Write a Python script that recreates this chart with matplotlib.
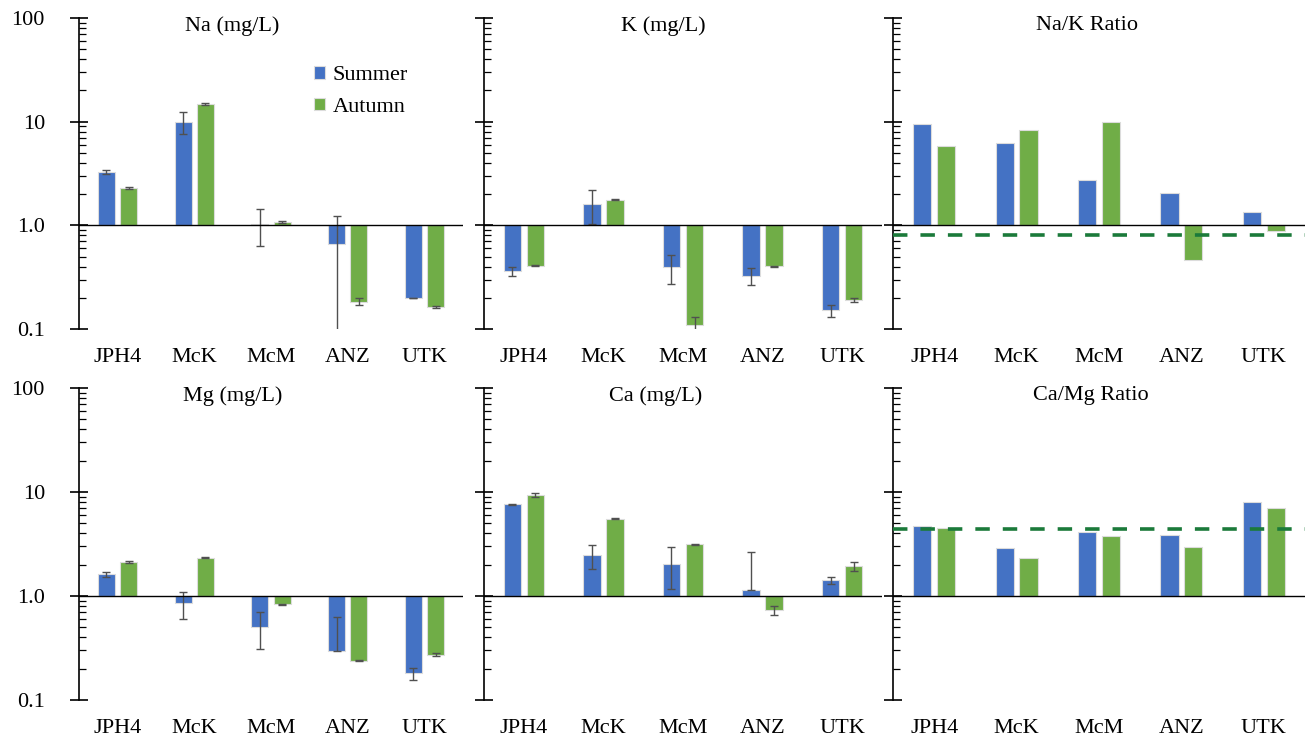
import matplotlib.pyplot as plt
import matplotlib.ticker as mticker
import numpy as np

plt.rcParams["font.family"] = ["Liberation Serif", "DejaVu Serif"]
plt.rcParams["font.size"] = 16

SITES = ["JPH4", "McK", "McM", "ANZ", "UTK"]

na_summer = [3.3, 10.0, 1.03, 0.66, 0.20]
na_summer_err = [0.15, 2.4, 0.4, 0.58, 0.0]
na_autumn = [2.29, 14.8, 1.07, 0.184, 0.162]
na_autumn_err = [0.03, 0.25, 0.02, 0.013, 0.003]

k_summer = [0.36, 1.62, 0.394, 0.324, 0.151]
k_summer_err = [0.033, 0.58, 0.12, 0.06, 0.02]
k_autumn = [0.408, 1.77, 0.110, 0.402, 0.19]
k_autumn_err = [0.005, 0.02, 0.02, 0.003, 0.007]

nak_summer = [9.4, 6.22, 2.76, 2.07, 1.355]
nak_autumn = [5.78, 8.31, 9.93, 0.466, 0.88]
nak_ref = 0.8

mg_summer = [1.61, 0.85, 0.507, 0.298, 0.18]
mg_summer_err = [0.09, 0.25, 0.2, 0.326, 0.023]
mg_autumn = [2.11, 2.34, 0.83, 0.239, 0.273]
mg_autumn_err = [0.04, 0.02, 0.01, 0.003, 0.01]

ca_summer = [7.6, 2.46, 2.05, 1.15, 1.41]
ca_summer_err = [0.12, 0.64, 0.88, 1.5, 0.1]
ca_autumn = [9.36, 5.54, 3.14, 0.728, 1.94]
ca_autumn_err = [0.4, 0.06, 0.05, 0.07, 0.2]

camg_summer = [4.75, 2.87, 4.16, 3.86, 8.01]
camg_autumn = [4.48, 2.34, 3.75, 2.96, 7.06]
camg_ref = 4.45

BLUE = "#4472C4"
GREEN = "#70AD47"
REF_GREEN = "#1B7A3A"
ERR_COLOR = "#505050"

W, H = 1308, 737
# axes boxes in pixels: (left, right) per column, (top, bottom) per row
COLS = [(79, 463), (484, 882), (893, 1305)]
ROWS = [(18, 329), (388, 700)]
TITLE_X = [[0.40, 0.45, 0.47], [0.40, 0.43, 0.48]]

panels = [
    [
        ("Na (mg/L)", na_summer, na_autumn, na_summer_err, na_autumn_err, None),
        ("K (mg/L)", k_summer, k_autumn, k_summer_err, k_autumn_err, None),
        ("Na/K Ratio", nak_summer, nak_autumn, None, None, nak_ref),
    ],
    [
        ("Mg (mg/L)", mg_summer, mg_autumn, mg_summer_err, mg_autumn_err, None),
        ("Ca (mg/L)", ca_summer, ca_autumn, ca_summer_err, ca_autumn_err, None),
        ("Ca/Mg Ratio", camg_summer, camg_autumn, None, None, camg_ref),
    ],
]


def _yerr(values, errs):
    values = np.asarray(values)
    errs = np.asarray(errs)
    # excel drops the minus part when it would go below zero on a log axis
    lower = np.where(values - errs > 0, errs, 0.0)
    return np.vstack([lower, errs])


def draw_bars(ax, x, values, errs, color, label):
    values = np.asarray(values)
    ax.bar(x, values - 1, bottom=1, width=0.22, color=color,
           edgecolor="#dcdcdc", linewidth=0.8, label=label, zorder=2)
    if errs is not None:
        ax.errorbar(x, values, yerr=_yerr(values, errs), fmt="none",
                    ecolor=ERR_COLOR, elinewidth=1.0, capsize=3,
                    capthick=1.0, zorder=3)


fig = plt.figure(figsize=(W / 100, H / 100), dpi=100)
x = np.arange(len(SITES))

for r, row in enumerate(panels):
    for c, (title, summer, autumn, s_err, a_err, ref) in enumerate(row):
        left, right = COLS[c]
        top, bottom = ROWS[r]
        ax = fig.add_axes([left / W, 1 - bottom / H, (right - left) / W,
                           (bottom - top) / H])
        ax.set_yscale("log")
        ax.set_ylim(0.1, 100)
        ax.set_xlim(-0.5, len(SITES) - 0.5)

        draw_bars(ax, x - 0.145, summer, s_err, BLUE, "Summer")
        draw_bars(ax, x + 0.145, autumn, a_err, GREEN, "Autumn")
        ax.axhline(1, color="black", linewidth=1.0, zorder=4)
        if ref is not None:
            ax.axhline(ref, color=REF_GREEN, linewidth=2.6,
                       linestyle=(0, (4, 3.6)), zorder=5)

        for side in ("top", "right", "bottom"):
            ax.spines[side].set_visible(False)
        ax.spines["left"].set_linewidth(1.2)

        ax.set_xticks(x)
        ax.set_xticklabels(SITES)
        ax.tick_params(axis="x", length=0, pad=14)

        ax.yaxis.set_major_locator(mticker.FixedLocator([0.1, 1, 10, 100]))
        ax.yaxis.set_minor_locator(
            mticker.LogLocator(base=10, subs=np.arange(2, 10)))
        ax.yaxis.set_minor_formatter(mticker.NullFormatter())
        ax.tick_params(axis="y", which="major", direction="inout",
                       length=13, width=1.2)
        ax.tick_params(axis="y", which="minor", direction="in",
                       length=5, width=0.9)
        if c == 0:
            ax.yaxis.set_major_formatter(
                mticker.FixedFormatter(["0.1", "1.0", "10", "100"]))
            ax.tick_params(axis="y", which="major", pad=18)
        else:
            ax.yaxis.set_major_formatter(mticker.NullFormatter())

        ax.text(TITLE_X[r][c], 0.975, title, transform=ax.transAxes,
                ha="center", va="center")

        if r == 0 and c == 0:
            ax.legend(loc="upper left", bbox_to_anchor=(0.612, 0.845),
                      frameon=False, borderpad=0, borderaxespad=0,
                      handlelength=0.5, handleheight=0.5, handletextpad=0.35,
                      labelspacing=0.55)

fig.savefig("out.png", dpi=100)
plt.close(fig)
